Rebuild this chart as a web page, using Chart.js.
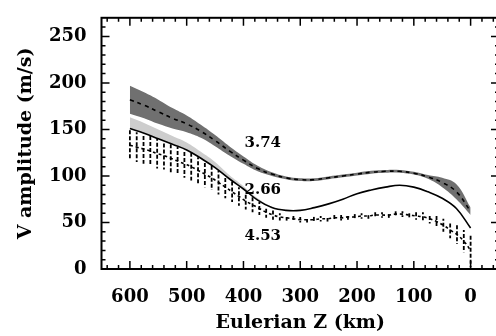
<!DOCTYPE html>
<html>
<head>
<meta charset="utf-8">
<script src="https://cdn.jsdelivr.net/npm/chart.js@4/dist/chart.umd.min.js"></script>
<style>
  html, body { margin: 0; padding: 0; background: #fff; overflow: hidden; }
  #wrap { width: 500px; height: 336px; }
</style>
</head>
<body>
<div id="wrap"><canvas id="canvas" width="500" height="336"></canvas></div>
<script>
'use strict';

// upper (dashed) curve, with its dark error band
const upperZ = [600, 575, 550, 525, 500, 475, 450, 425, 400, 375, 350, 325, 300, 275, 250, 225, 200, 175, 150, 125, 100, 75, 50, 25, 0];
const upperV = [182, 176, 169, 162, 156, 148, 138, 127, 117, 108, 102, 98, 96, 96, 98, 100, 102, 104, 105, 105, 103, 99, 93, 83, 62];
const upperErr = [15, 14, 13, 11, 9, 7, 6, 5, 4, 3, 2, 1.5, 1.5, 1.5, 1.5, 1.5, 1.5, 1.5, 1.5, 1.5, 1.5, 2, 5, 8, 4];

// middle (solid) curve, with its light band
const middleZ = [600, 575, 550, 525, 500, 475, 450, 425, 400, 375, 350, 325, 300, 275, 250, 225, 200, 175, 150, 125, 100, 75, 50, 25, 0];
const middleV = [151, 146, 140, 134, 128, 119, 109, 97, 86, 74, 66, 63, 63, 66, 70, 75, 81, 85, 88, 90, 88, 83, 76, 65, 44];
const middleErr = [12, 11, 10, 9, 8, 7, 6, 4, 3, 2, 1, 0, 0, 0, 0, 0, 0, 0, 0, 0, 0, 0, 0, 0, 0];

// lower (dotted) curve, with hatched error bars
const lowerZ = [600, 588, 576, 564, 552, 540, 528, 516, 504, 492, 480, 468, 456, 444, 432, 420, 408, 396, 384, 372, 360,
  348, 336, 324, 312, 300, 288, 276, 264, 252, 240, 228, 216, 204, 192, 180, 168, 156, 144, 132, 120,
  108, 96, 84, 72, 60, 48, 36, 24, 12, 0];
const lowerV = [133, 131, 129, 127, 124, 122, 119, 116, 113, 110, 106, 102, 98, 93, 88, 83, 78, 73, 69, 65, 61,
  58, 56, 55, 54, 53, 53, 53, 54, 54, 55, 55, 56, 56, 57, 57, 58, 58, 58, 59, 59,
  58, 57, 56, 54, 51, 47, 42, 37, 30, 20];
const lowerErr = [16, 16, 16, 16, 16, 15, 15, 15, 15, 15, 14, 14, 13, 13, 12, 11, 10, 9, 8, 7, 6,
  5, 4, 3, 3, 3, 3, 3, 3, 3, 3, 3, 3, 3, 3, 3, 3, 3, 3, 3, 3,
  4, 4, 5, 5, 6, 7, 9, 10, 12, 18];

// labels written in the plot
const curveLabels = ['3.74', '2.66', '4.53'];
const curveLabelZ = [366, 366, 366];
const curveLabelV = [135, 85, 35];

// axes
const xTickLabels = [600, 500, 400, 300, 200, 100, 0];
const yTickLabels = [0, 50, 100, 150, 200, 250];

const pts = (zs, vs, off) => zs.map((z, i) => ({ x: z, y: vs[i] + (off ? off[i] : 0) }));
const neg = arr => arr.map(v => -v);

const FONT = '"DejaVu Serif", "Liberation Serif", serif';

// inward ticks on all four sides plus the frame
const frameTicks = {
  id: 'frameTicks',
  afterDraw(chart) {
    const { ctx, chartArea: a, scales: { x, y } } = chart;
    ctx.save();
    ctx.strokeStyle = '#000';
    ctx.lineWidth = 1.5;
    ctx.beginPath();
    for (let v = -40; v <= 640; v += 20) {
      const px = x.getPixelForValue(v);
      const len = v % 100 === 0 ? 8 : 4;
      ctx.moveTo(px, a.bottom); ctx.lineTo(px, a.bottom - len);
      ctx.moveTo(px, a.top); ctx.lineTo(px, a.top + len);
    }
    for (let v = 10; v <= 260; v += 10) {
      const py = y.getPixelForValue(v);
      const len = v % 50 === 0 ? 8 : 4;
      ctx.moveTo(a.left, py); ctx.lineTo(a.left + len, py);
      ctx.moveTo(a.right, py); ctx.lineTo(a.right - len, py);
    }
    ctx.stroke();
    ctx.lineWidth = 2;
    ctx.strokeRect(a.left, a.top, a.right - a.left, a.bottom - a.top);
    ctx.restore();
  }
};

// hatched error bars of the lower curve and the numbers beside the curves
const hatchAndText = {
  id: 'hatchAndText',
  afterDatasetsDraw(chart) {
    const { ctx, scales: { x, y } } = chart;
    ctx.save();
    ctx.strokeStyle = '#000';
    ctx.lineWidth = 1.8;
    ctx.setLineDash([4, 2]);
    lowerZ.forEach((z, i) => {
      const px = x.getPixelForValue(z);
      ctx.lineDashOffset = (i % 3) * 2;
      ctx.beginPath();
      ctx.moveTo(px, y.getPixelForValue(lowerV[i] + lowerErr[i]));
      ctx.lineTo(px, y.getPixelForValue(lowerV[i] - lowerErr[i]));
      ctx.stroke();
    });
    ctx.setLineDash([]);
    ctx.fillStyle = '#000';
    ctx.font = 'bold 15px ' + FONT;
    ctx.textAlign = 'center';
    ctx.textBaseline = 'middle';
    curveLabels.forEach((t, i) => {
      ctx.fillText(t, x.getPixelForValue(curveLabelZ[i]), y.getPixelForValue(curveLabelV[i]));
    });
    ctx.restore();
  }
};

const band = (data, fill, color) => ({
  data, fill, backgroundColor: color, borderWidth: 0, pointRadius: 0, tension: 0.4, order: 5
});

const fixedTicks = list => s => { s.ticks = list.map(v => ({ value: v })); };

const chart = new Chart(document.getElementById('canvas').getContext('2d'), {
  type: 'line',
  data: {
    datasets: [
      band(pts(upperZ, upperV, upperErr), '+1', 'rgb(112,112,112)'),
      band(pts(upperZ, upperV, neg(upperErr)), false, 'rgba(0,0,0,0)'),
      band(pts(middleZ, middleV, middleErr), '+1', 'rgb(205,205,205)'),
      band(pts(middleZ, middleV), false, 'rgba(0,0,0,0)'),
      {
        data: pts(upperZ, upperV), borderColor: '#000', borderWidth: 1.6,
        borderDash: [4, 4], pointRadius: 0, tension: 0.4, fill: false, order: 1
      },
      {
        data: pts(middleZ, middleV), borderColor: '#000', borderWidth: 1.6,
        pointRadius: 0, tension: 0.4, fill: false, order: 1
      },
      {
        data: pts(lowerZ, lowerV), borderColor: '#000', borderWidth: 1.6,
        borderDash: [3, 3], pointRadius: 0, tension: 0.4, fill: false, order: 1
      }
    ]
  },
  options: {
    responsive: false,
    animation: false,
    devicePixelRatio: 1,
    layout: { padding: { top: 11, right: 1, left: 0, bottom: 0 } },
    plugins: { legend: { display: false }, tooltip: { enabled: false } },
    scales: {
      x: {
        type: 'linear', reverse: true, min: -50, max: 650,
        grid: { display: false }, border: { display: false },
        afterFit: s => { s.height = 67; },
        afterBuildTicks: fixedTicks(xTickLabels),
        ticks: {
          padding: 10, color: '#000', maxRotation: 0, autoSkip: false,
          font: { family: FONT, size: 18, weight: 'bold' }
        },
        title: {
          display: true, text: 'Eulerian Z (km)', color: '#000',
          font: { family: FONT, size: 19, weight: 'bold' }, padding: { top: 0, bottom: 2 }
        }
      },
      y: {
        min: 0, max: 270,
        grid: { display: false }, border: { display: false },
        afterFit: s => { s.width = 101.5; },
        afterBuildTicks: fixedTicks(yTickLabels),
        ticks: {
          padding: 7, color: '#000', autoSkip: false,
          font: { family: FONT, size: 18, weight: 'bold' }
        },
        title: {
          display: true, text: 'V amplitude (m/s)', color: '#000',
          font: { family: FONT, size: 19, weight: 'bold' }, padding: { top: 15, bottom: 0 }
        }
      }
    }
  },
  plugins: [hatchAndText, frameTicks]
});
</script>
</body>
</html>
